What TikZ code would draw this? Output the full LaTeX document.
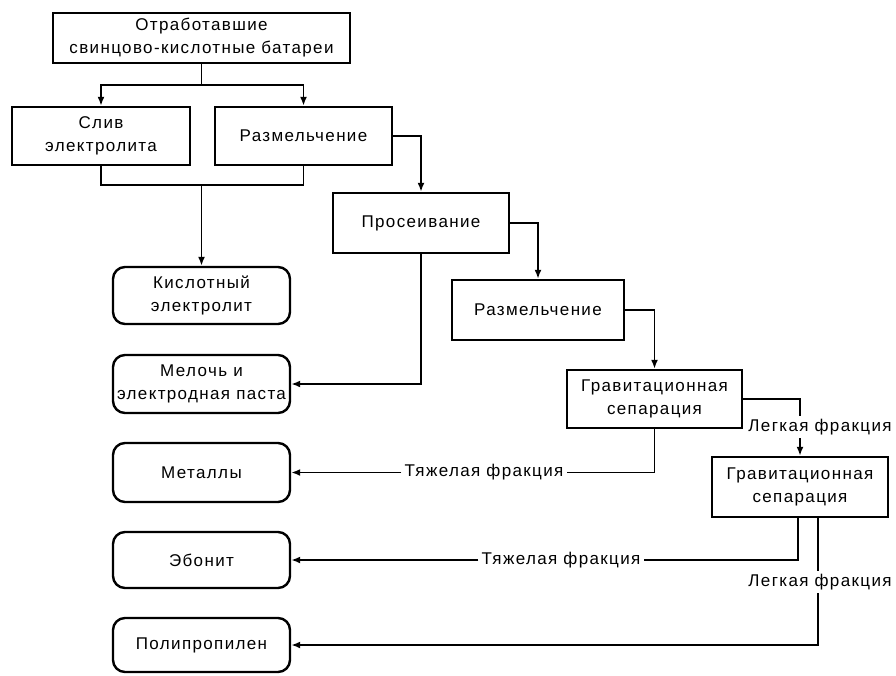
\documentclass[tikz,border=0pt]{standalone}
\usepackage{fontspec}
\setmainfont[LetterSpace=8]{Liberation Sans}
\usetikzlibrary{calc,arrows.meta}

\tikzset{
	proc/.style={draw, line width=2.4pt, align=center, inner sep=2pt,
		font=\fontsize{17}{23}\selectfont},
	prod/.style={proc, rounded corners=12pt},
	flow/.style={line width=1.8pt},
	frac/.style={inner sep=3pt, font=\fontsize{17}{23}\selectfont}
}

\begin{document}
\begin{tikzpicture}[>={Latex[length=9pt,width=7pt]}, x=1pt, y=-1pt]
	% page frame in pixel units
	\useasboundingbox (0,0) rectangle (896,675);

	% process steps
	\node[proc, minimum width=297pt, minimum height=50pt] (bat) at (201.5,38)
		{Отработавшие\\свинцово-кислотные батареи};
	\node[proc, minimum width=178pt, minimum height=58pt] (sliv) at (101,136)
		{Слив\\электролита};
	\node[proc, minimum width=177pt, minimum height=58pt] (razmA) at (303.5,136)
		{Размельчение};
	\node[proc, minimum width=176pt, minimum height=60pt] (pros) at (421,223)
		{Просеивание};
	\node[proc, minimum width=172pt, minimum height=60pt] (razmB) at (538,310)
		{Размельчение};
	\node[proc, minimum width=175pt, minimum height=58pt] (gravA) at (654.5,399)
		{Гравитационная\\сепарация};
	\node[proc, minimum width=176pt, minimum height=60pt] (gravB) at (800,487)
		{Гравитационная\\сепарация};

	% products
	\node[prod, minimum width=177pt, minimum height=57pt] (kisl) at (201.5,295.5)
		{Кислотный\\электролит};
	\node[prod, minimum width=177pt, minimum height=58pt] (mel) at (201.5,384)
		{Мелочь и\\электродная паста};
	\node[prod, minimum width=177pt, minimum height=59pt] (met) at (201.5,472.5)
		{Металлы};
	\node[prod, minimum width=177pt, minimum height=56pt] (ebon) at (201.5,560)
		{Эбонит};
	\node[prod, minimum width=177pt, minimum height=54pt] (poly) at (201.5,645)
		{Полипропилен};

	% fraction labels
	\node[frac] (lfA) at (820,427) {Легкая фракция};
	\node[frac] (tfA) at (484,472.5) {Тяжелая фракция};
	\node[frac] (tfB) at (561,560) {Тяжелая фракция};
	\node[frac] (lfB) at (820,582) {Легкая фракция};

	% split below the batteries
	\coordinate (split) at (201.5,85);
	\draw[flow] (bat.south) -- (split);
	\draw[flow,->] (split) -| (sliv.north);
	\draw[flow,->] (split) -| (razmA.north);

	% join below the first stage
	\coordinate (join) at (201.5,185);
	\draw[flow] (sliv.south) |- (join);
	\draw[flow] (razmA.south) |- (join);
	\draw[flow,->] (join) -- (kisl.north);

	% main line down the steps
	\draw[flow,->] (razmA.east) -| (pros.north);
	\draw[flow,->] (pros.east) -| (razmB.north);
	\draw[flow,->] (pros.south) |- (mel.east);
	\draw[flow,->] (razmB.east) -| (gravA.north);

	% first separation
	\draw[flow] (gravA.east) -| (gravB.north |- lfA.north);
	\draw[flow,->] (gravB.north |- lfA.south) -- (gravB.north);
	\draw[flow] (gravA.south) |- (tfA.east);
	\draw[flow,->] (tfA.west) -- (met.east);

	% second separation
	\coordinate (heavy) at ($(gravB.south)+(-2,0)$);
	\coordinate (light) at ($(gravB.south)+(18,0)$);
	\draw[flow] (heavy) |- (tfB.east);
	\draw[flow,->] (tfB.west) -- (ebon.east);
	\draw[flow] (light) -- (light |- lfB.north);
	\draw[flow,->] (light |- lfB.south) |- (poly.east);
\end{tikzpicture}
\end{document}
